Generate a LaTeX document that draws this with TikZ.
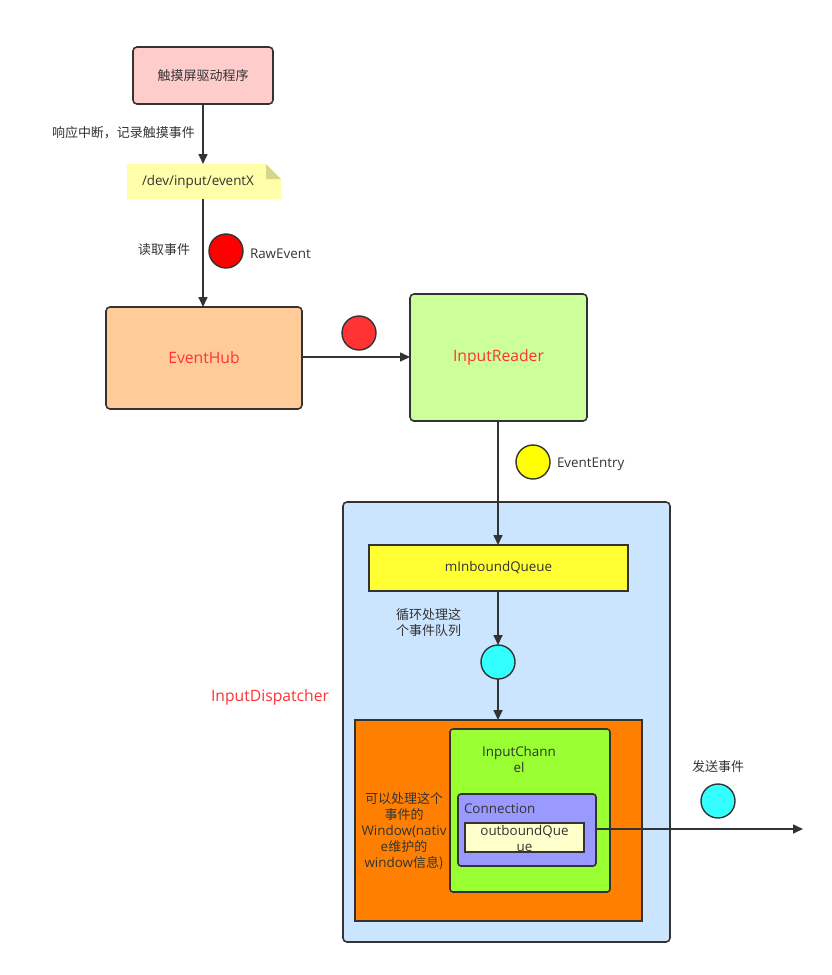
\documentclass[tikz,border=0pt]{standalone}
\usepackage{fontspec}
\setmainfont{Open Sans}
\newfontfamily\cjkf{Noto Sans CJK SC}
\newcommand{\cjk}{\cjkf\fontsize{13}{16}\selectfont}
\usetikzlibrary{arrows.meta}
\definecolor{ln}{HTML}{333333}
\definecolor{txt}{HTML}{333333}
\definecolor{redtxt}{HTML}{FF3333}
\definecolor{dispfill}{HTML}{CCE5FF}
\tikzset{
  every node/.style={font=\fontsize{13.4}{16}\selectfont, text=txt, inner sep=0pt, outer sep=0pt},
  bigred/.style={text=redtxt, font=\fontsize{15.7}{18}\selectfont},
  arr/.style={draw=ln, line width=1.6pt, -{Triangle[length=10pt,width=9pt]}},
  rbox/.style={draw=ln, line width=1.6pt, rounded corners=4pt},
  sbox/.style={draw=ln, line width=1.6pt},
  dot/.style={circle, draw=ln, line width=1.4pt, minimum size=34pt},
  lbl/.style={align=left, anchor=west},
}
\begin{document}
\begin{tikzpicture}[x=1pt,y=-1pt]
\useasboundingbox (0,0) rectangle (832,975);
% InputDispatcher container
\node[rbox, fill=dispfill, minimum width=327pt, minimum height=440pt] (disp) at (506.5,722) {};
\node[bigred] (displbl) at (270,697) {InputDispatcher};
% driver
\node[rbox, fill={rgb,255:red,255;green,204;blue,204}, minimum width=140pt, minimum height=57pt] (drv) at (203,75.5) {\cjk 触摸屏驱动程序};
% note
\node[minimum width=154pt, minimum height=35pt] (note) at (204,181.5) {};
\fill[fill={rgb,255:red,255;green,255;blue,170}] (note.south west) -- (note.north west) -- ([xshift=-15pt]note.north east) -- ([yshift=-15pt]note.north east) -- (note.south east) -- cycle;
\fill[fill={rgb,255:red,214;green,214;blue,138}] ([xshift=-15pt]note.north east) -- ([xshift=-15pt,yshift=-15pt]note.north east) -- ([yshift=-15pt]note.north east) -- cycle;
\node (notetxt) at (198,182) {/dev/input/eventX};
\node[lbl] (l1) at (52,133) {\cjk 响应中断，记录触摸事件};
\draw[arr] (drv.south) -- (drv.south |- note.north);
% EventHub
\node[rbox, fill={rgb,255:red,255;green,204;blue,153}, minimum width=196pt, minimum height=102pt, bigred] (hub) at (204,358) {EventHub};
\draw[arr] (note.south -| drv.south) -- (drv.south |- hub.north);
\node[lbl] (l2) at (138,250) {\cjk 读取事件};
\node[dot, fill={rgb,255:red,255;green,0;blue,0}] (c1) at (226,251) {};
\node[lbl] (l3) at (250,254) {RawEvent};
% InputReader
\node[rbox, fill={rgb,255:red,204;green,255;blue,153}, minimum width=177pt, minimum height=127pt, bigred] (reader) at (498.5,357.5) {InputReader};
\draw[arr] (hub.east |- 0,357) -- (reader.west |- 0,357);
\node[dot, fill={rgb,255:red,255;green,51;blue,51}] (c2) at (359,333) {};
% mInboundQueue
\node[sbox, fill={rgb,255:red,255;green,255;blue,51}, minimum width=259pt, minimum height=46pt] (inq) at (498.5,568) {mInboundQueue};
\coordinate (rs) at (498,421);
\draw[arr] (rs) -- (rs |- inq.north);
\node[dot, fill={rgb,255:red,255;green,255;blue,0}] (c3) at (533,462) {};
\node[lbl] (l4) at (557,464) {EventEntry};
% loop
\node[dot, fill={rgb,255:red,51;green,255;blue,255}] (c4) at (498,662) {};
\draw[arr] (inq.south -| c4) -- (c4.north);
\node[lbl] (l5) at (396,623) {\cjk 循环处理这\\\cjk 个事件队列};
% orange box
\node[sbox, fill={rgb,255:red,255;green,128;blue,0}, minimum width=287pt, minimum height=201pt] (win) at (498.5,820.5) {};
\draw[arr] (c4.south) -- (c4 |- win.north);
\node[align=center] (wintxt) at (404,831) {\cjk 可以处理这个\\\cjk 事件的\\Window(nativ\\e{\cjk 维护的}\\window{\cjk 信息)}};
% InputChannel
\node[rbox, rounded corners=3pt, fill={rgb,255:red,153;green,255;blue,51}, minimum width=160pt, minimum height=163pt] (chan) at (530,810.5) {};
\node[align=center] (chantxt) at (519,759) {InputChann\\el};
% Connection
\node[rbox, rounded corners=3pt, fill={rgb,255:red,153;green,153;blue,255}, minimum width=138pt, minimum height=72pt] (conn) at (527,830) {};
\node[lbl] (conntxt) at (464,809) {Connection};
\node[sbox, fill={rgb,255:red,255;green,255;blue,204}, minimum width=119pt, minimum height=29pt] (outq) at (524.5,837.5) {};
\node[align=center] (outqtxt) at (524.5,838) {outboundQue\\ue};
% output
\coordinate (end) at (803,829);
\draw[arr] (conn.east |- end) -- (end);
\node[lbl] (l6) at (692,767) {\cjk 发送事件};
\node[dot, fill={rgb,255:red,51;green,255;blue,255}] (c5) at (718,801) {};
\end{tikzpicture}
\end{document}
